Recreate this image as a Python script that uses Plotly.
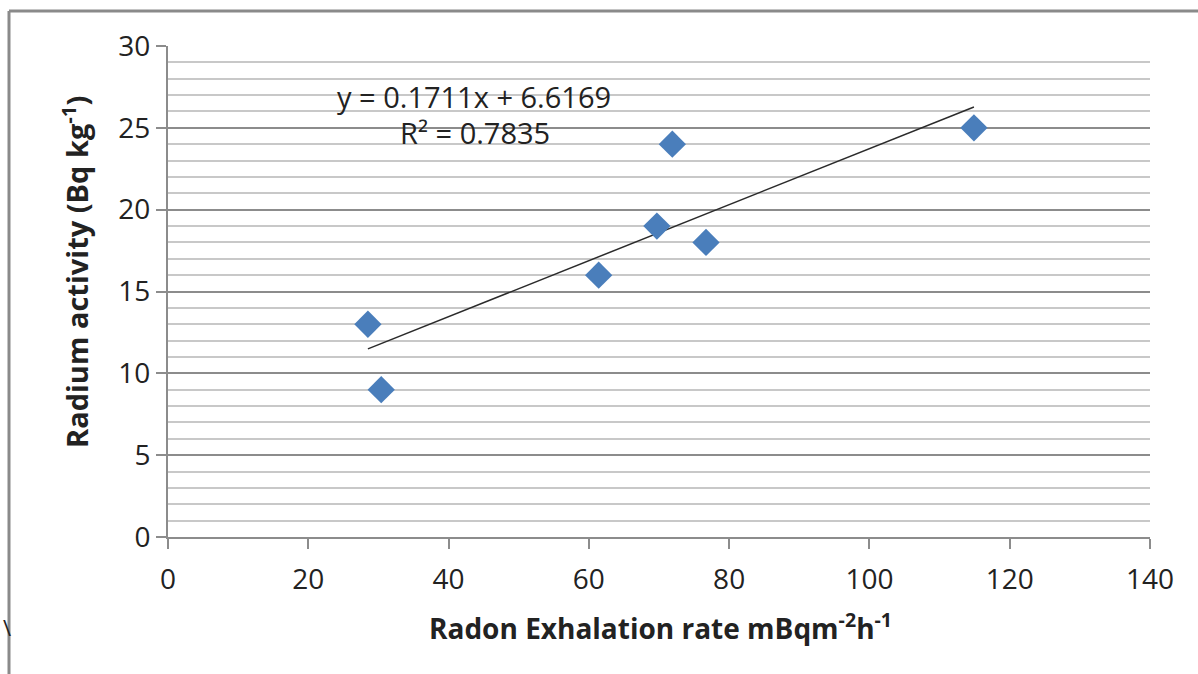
import plotly.graph_objects as go

# Radon exhalation rate (mBq m^-2 h^-1) vs radium activity (Bq kg^-1)
exhalation = [28.5, 30.4, 61.4, 69.7, 71.9, 76.7, 114.9]
radium = [13, 9, 16, 19, 24, 18, 25]

# Linear fit reported on the chart
slope = 0.1711
intercept = 6.6169
r_squared = 0.7835

x_ticks = [0, 20, 40, 60, 80, 100, 120, 140]
y_ticks = [0, 5, 10, 15, 20, 25, 30]

FONT = "Open Sans"
x_fit = [min(exhalation), max(exhalation)]
y_fit = [slope * v + intercept for v in x_fit]

fig = go.Figure()
fig.add_trace(go.Scatter(
    x=x_fit, y=y_fit, mode="lines",
    line=dict(color="#2b2b2b", width=1.5),
    hoverinfo="skip", showlegend=False,
))
fig.add_trace(go.Scatter(
    x=exhalation, y=radium, mode="markers",
    marker=dict(symbol="diamond", size=21, color="#4a7ebb",
                line=dict(width=0)),
    showlegend=False,
))

# Outer chart frame (left and top edges)
L, T = 168, 46
W, H = 982, 491
def px(x):
    return (x - L) / W
def py(y):
    return (T + H - y) / H

frame = dict(color="#8a8a8a", width=3)
fig.add_shape(type="line", xref="paper", yref="paper",
              x0=px(9), x1=px(1200), y0=py(11), y1=py(11), line=frame)
fig.add_shape(type="line", xref="paper", yref="paper",
              x0=px(9), x1=px(9), y0=py(11), y1=py(676), line=frame)

annotations = [
    dict(x=43.6, y=26.9, xref="x", yref="y",
         text=f"y = {slope}x + {intercept}", showarrow=False,
         font=dict(family=FONT, size=29, color="#222")),
    dict(x=43.7, y=24.7, xref="x", yref="y",
         text=f"R² = {r_squared}", showarrow=False,
         font=dict(family=FONT, size=29, color="#222")),
    dict(x=px(660), y=py(626), xref="paper", yref="paper",
         xanchor="center", yanchor="middle",
         text="<b>Radon Exhalation rate mBqm<sup>-2</sup>h<sup>-1</sup></b>",
         showarrow=False, font=dict(family=FONT, size=28, color="#222")),
    dict(x=px(75), y=py(272), xref="paper", yref="paper",
         xanchor="center", yanchor="middle",
         text="<b>Radium activity (Bq kg<sup>-1</sup>)</b>", textangle=-90,
         showarrow=False, font=dict(family=FONT, size=29, color="#222")),
    dict(x=px(1), y=py(627), xref="paper", yref="paper",
         xanchor="left", yanchor="middle",
         text="\\", showarrow=False,
         font=dict(family=FONT, size=22, color="#222")),
]

fig.update_layout(
    width=1198, height=674,
    margin=dict(l=L, r=1198 - L - W, t=T, b=674 - T - H),
    paper_bgcolor="white", plot_bgcolor="white",
    font=dict(family=FONT, size=28, color="#222"),
    annotations=annotations,
    xaxis=dict(
        range=[0, 140], tickvals=x_ticks, showgrid=False, zeroline=False,
        showline=True, linecolor="#8c8c8c", linewidth=2,
        ticks="outside", ticklen=10, tickcolor="#8c8c8c", tickwidth=2,
        ticklabelstandoff=6,
        tickfont=dict(family=FONT, size=28, color="#222"),
    ),
    yaxis=dict(
        range=[0, 30], tickvals=y_ticks, zeroline=False,
        showgrid=True, gridcolor="#8c8c8c", gridwidth=1.5,
        showline=True, linecolor="#8c8c8c", linewidth=2,
        ticks="outside", ticklen=10, tickcolor="#8c8c8c", tickwidth=2,
        tickfont=dict(family=FONT, size=28, color="#222"),
        minor=dict(dtick=1, showgrid=True, gridcolor="#c8c8c8",
                   gridwidth=1.5, ticks=""),
    ),
)

fig.write_html("out.html")
